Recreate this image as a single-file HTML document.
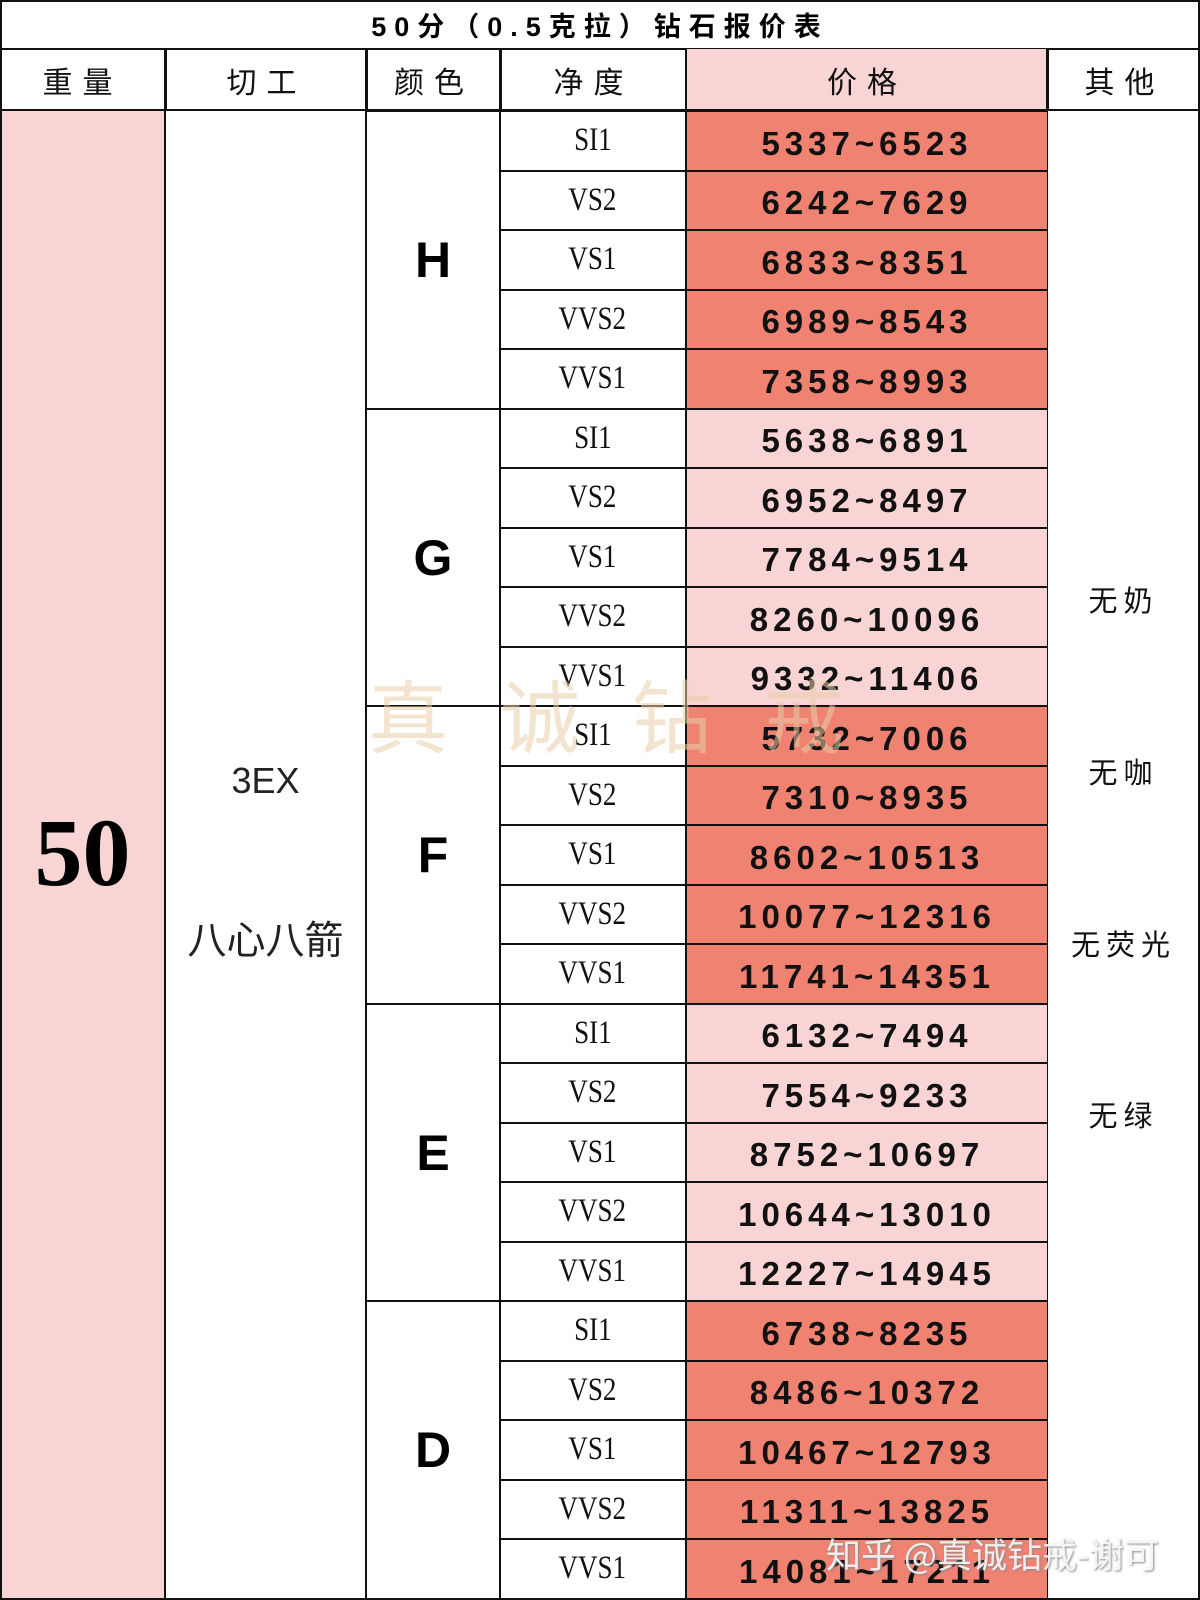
<!DOCTYPE html>
<html><head><meta charset="utf-8"><style>
body{margin:0;width:1200px;height:1600px;background:#fff;position:relative;overflow:hidden;font-family:"Liberation Sans","Noto Sans CJK SC",sans-serif}
div{position:absolute;box-sizing:border-box}
.c{left:500px;width:185px;height:59.5px;border-top:2px solid #111;display:flex;align-items:center;justify-content:center;font-family:"Liberation Serif","Noto Serif CJK SC",serif;font-size:33px;color:#111}
.c span{display:inline-block;transform:scaleX(.82)}
.p{left:685px;width:362px;height:59.5px;border-top:2px solid #111;border-left:2px solid #111;display:flex;align-items:center;justify-content:center;font-weight:bold;font-size:33px;letter-spacing:5px;color:#111;padding-top:6px}
.d{background:#f08272}.l{background:#f9d4d5}
.g{left:366px;width:134px;height:298px;border-top:2px solid #111;display:flex;align-items:center;justify-content:center;font-weight:bold;font-size:50px;color:#000}
.h{top:49px;height:61px;border-left:2px solid #111;display:flex;align-items:center;justify-content:center;font-size:30px;letter-spacing:10px;color:#111}
.o{left:1047px;width:153px;text-align:center;font-size:29px;letter-spacing:6px;color:#111;font-family:"Noto Sans CJK SC",sans-serif}
</style></head><body>
<div style="left:0;top:0;width:1200px;height:1600px;border:2px solid #111"></div>
<div style="left:0;top:0;width:1200px;height:49px;display:flex;align-items:center;justify-content:center;font-weight:bold;font-size:27px;letter-spacing:8px">50分（0.5克拉）钻石报价表</div>
<div style="left:0;top:48px;width:1200px;border-top:2px solid #111"></div>
<div class="h" style="left:0;width:165px;border-left:none">重量</div>
<div class="h" style="left:165px;width:201px">切工</div>
<div class="h" style="left:366px;width:134px">颜色</div>
<div class="h" style="left:500px;width:185px">净度</div>
<div class="h l" style="left:685px;width:362px">价格</div>
<div class="h" style="left:1047px;width:153px">其他</div>
<div style="left:0;top:109px;width:1200px;border-top:2px solid #111"></div>
<div class="l" style="left:2px;top:111px;width:163px;height:1487px"></div>
<div style="left:164px;top:49px;height:1551px;border-left:2px solid #111"></div>
<div style="left:365px;top:49px;height:1551px;border-left:2px solid #111"></div>
<div style="left:499px;top:49px;height:1551px;border-left:2px solid #111"></div>
<div style="left:1046px;top:49px;height:1551px;border-left:2px solid #111"></div>
<div style="left:0;top:805px;width:165px;text-align:center;font-family:'Liberation Serif',serif;font-weight:bold;font-size:96px;line-height:1">50</div>
<div style="left:165px;top:760px;width:201px;text-align:center;font-size:36px;color:#222">3EX</div>
<div style="left:165px;top:910px;width:201px;text-align:center;font-size:39px;color:#222;font-family:'Noto Sans CJK SC',sans-serif">八心八箭</div>
<div class="o" style="top:578px">无奶</div>
<div class="o" style="top:750px">无咖</div>
<div class="o" style="top:922px">无荧光</div>
<div class="o" style="top:1093px">无绿</div>
<div class="g" style="top:110px">H</div>
<div class="g" style="top:407.5px">G</div>
<div class="g" style="top:705px">F</div>
<div class="g" style="top:1002.5px">E</div>
<div class="g" style="top:1300px">D</div>

<div class="c" style="top:110px"><span>SI1</span></div><div class="p d" style="top:110px">5337~6523</div>
<div class="c" style="top:169.5px"><span>VS2</span></div><div class="p d" style="top:169.5px">6242~7629</div>
<div class="c" style="top:229px"><span>VS1</span></div><div class="p d" style="top:229px">6833~8351</div>
<div class="c" style="top:288.5px"><span>VVS2</span></div><div class="p d" style="top:288.5px">6989~8543</div>
<div class="c" style="top:348px"><span>VVS1</span></div><div class="p d" style="top:348px">7358~8993</div>
<div class="c" style="top:407.5px"><span>SI1</span></div><div class="p l" style="top:407.5px">5638~6891</div>
<div class="c" style="top:467px"><span>VS2</span></div><div class="p l" style="top:467px">6952~8497</div>
<div class="c" style="top:526.5px"><span>VS1</span></div><div class="p l" style="top:526.5px">7784~9514</div>
<div class="c" style="top:586px"><span>VVS2</span></div><div class="p l" style="top:586px">8260~10096</div>
<div class="c" style="top:645.5px"><span>VVS1</span></div><div class="p l" style="top:645.5px">9332~11406</div>
<div class="c" style="top:705px"><span>SI1</span></div><div class="p d" style="top:705px">5732~7006</div>
<div class="c" style="top:764.5px"><span>VS2</span></div><div class="p d" style="top:764.5px">7310~8935</div>
<div class="c" style="top:824px"><span>VS1</span></div><div class="p d" style="top:824px">8602~10513</div>
<div class="c" style="top:883.5px"><span>VVS2</span></div><div class="p d" style="top:883.5px">10077~12316</div>
<div class="c" style="top:943px"><span>VVS1</span></div><div class="p d" style="top:943px">11741~14351</div>
<div class="c" style="top:1002.5px"><span>SI1</span></div><div class="p l" style="top:1002.5px">6132~7494</div>
<div class="c" style="top:1062px"><span>VS2</span></div><div class="p l" style="top:1062px">7554~9233</div>
<div class="c" style="top:1121.5px"><span>VS1</span></div><div class="p l" style="top:1121.5px">8752~10697</div>
<div class="c" style="top:1181px"><span>VVS2</span></div><div class="p l" style="top:1181px">10644~13010</div>
<div class="c" style="top:1240.5px"><span>VVS1</span></div><div class="p l" style="top:1240.5px">12227~14945</div>
<div class="c" style="top:1300px"><span>SI1</span></div><div class="p d" style="top:1300px">6738~8235</div>
<div class="c" style="top:1359.5px"><span>VS2</span></div><div class="p d" style="top:1359.5px">8486~10372</div>
<div class="c" style="top:1419px"><span>VS1</span></div><div class="p d" style="top:1419px">10467~12793</div>
<div class="c" style="top:1478.5px"><span>VVS2</span></div><div class="p d" style="top:1478.5px">11311~13825</div>
<div class="c" style="top:1538px"><span>VVS1</span></div><div class="p d" style="top:1538px">14081~17211</div>
<div style="left:685px;top:109px;height:1491px;border-left:2px solid #111"></div>

<div style="left:368px;top:655px;font-size:80px;letter-spacing:52px;color:rgba(232,205,165,.55);font-family:'Noto Sans CJK SC',sans-serif;white-space:nowrap">真诚钻戒</div>
<div style="left:826px;top:1528px;font-size:35px;color:rgba(255,255,255,.85);text-shadow:1px 1px 2px #888;font-family:'Noto Sans CJK SC',sans-serif;white-space:nowrap">知乎 @真诚钻戒-谢可</div>
</body></html>
